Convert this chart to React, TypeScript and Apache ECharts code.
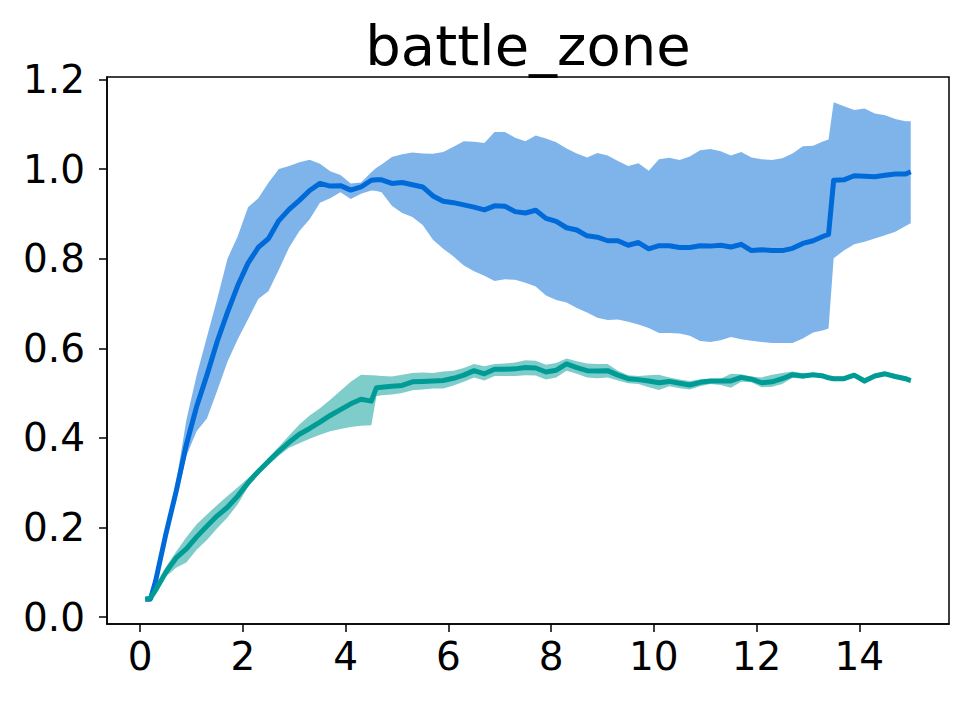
import React, { useEffect, useRef } from "react";
import * as echarts from "echarts";

const xs = [0.1,0.2,0.3,0.5,0.7,0.9,1.1,1.3,1.5,1.7,1.9,2.1,2.3,2.5,2.7,2.9,3.1,3.3,3.5,3.7,3.9,4.1,4.3,4.5,4.6,4.7,4.9,5.1,5.3,5.5,5.7,5.9,6.1,6.3,6.5,6.7,6.9,7.1,7.3,7.5,7.7,7.9,8.1,8.3,8.5,8.7,8.9,9.1,9.3,9.5,9.7,9.9,10.1,10.3,10.5,10.7,10.9,11.1,11.3,11.5,11.7,11.9,12.1,12.3,12.5,12.7,12.9,13.1,13.3,13.4,13.5,13.7,13.9,14.1,14.3,14.5,14.7,14.9,15.0];

const blueMean = [0.04,0.04,0.08,0.185,0.28,0.385,0.47,0.54,0.615,0.68,0.74,0.79,0.825,0.845,0.885,0.91,0.93,0.952,0.968,0.962,0.963,0.953,0.96,0.975,0.976,0.976,0.968,0.97,0.965,0.96,0.94,0.928,0.925,0.92,0.915,0.909,0.918,0.917,0.905,0.902,0.908,0.89,0.883,0.869,0.864,0.851,0.848,0.84,0.84,0.83,0.836,0.822,0.829,0.829,0.825,0.825,0.829,0.828,0.83,0.826,0.832,0.818,0.82,0.818,0.818,0.823,0.834,0.84,0.85,0.854,0.975,0.976,0.985,0.984,0.983,0.986,0.989,0.989,0.994];
const blueUpper = [0.04,0.04,0.085,0.195,0.30,0.44,0.54,0.625,0.71,0.80,0.85,0.915,0.935,0.97,1.0,1.007,1.015,1.021,1.012,0.995,0.987,0.968,0.97,0.993,1.003,1.01,1.027,1.033,1.037,1.035,1.034,1.038,1.05,1.062,1.061,1.058,1.083,1.083,1.07,1.062,1.075,1.068,1.06,1.046,1.035,1.026,1.036,1.03,1.018,1.007,1.013,0.996,1.022,1.025,1.02,1.028,1.042,1.045,1.04,1.03,1.038,1.026,1.022,1.02,1.024,1.035,1.051,1.052,1.062,1.066,1.149,1.14,1.132,1.135,1.124,1.12,1.112,1.107,1.107];
const blueLower = [0.04,0.04,0.075,0.175,0.26,0.36,0.415,0.443,0.505,0.57,0.62,0.665,0.71,0.728,0.775,0.825,0.862,0.888,0.925,0.935,0.948,0.933,0.945,0.952,0.951,0.948,0.918,0.902,0.893,0.875,0.842,0.822,0.805,0.785,0.772,0.762,0.75,0.754,0.753,0.746,0.738,0.718,0.708,0.702,0.69,0.68,0.668,0.663,0.664,0.659,0.653,0.645,0.634,0.634,0.633,0.628,0.616,0.614,0.618,0.625,0.62,0.617,0.614,0.612,0.612,0.612,0.622,0.635,0.64,0.644,0.801,0.818,0.832,0.838,0.845,0.852,0.86,0.873,0.879];

const tealMean = [0.04,0.042,0.06,0.1,0.132,0.152,0.179,0.203,0.226,0.245,0.27,0.3,0.325,0.348,0.37,0.39,0.408,0.421,0.435,0.45,0.463,0.476,0.486,0.482,0.512,0.513,0.515,0.517,0.525,0.526,0.527,0.528,0.533,0.54,0.55,0.543,0.553,0.553,0.554,0.557,0.556,0.547,0.551,0.565,0.557,0.55,0.549,0.55,0.54,0.532,0.53,0.527,0.523,0.526,0.522,0.518,0.524,0.527,0.527,0.527,0.535,0.531,0.523,0.525,0.532,0.541,0.538,0.541,0.538,0.534,0.532,0.532,0.54,0.527,0.538,0.543,0.537,0.532,0.528];
const tealUpper = [0.04,0.043,0.065,0.112,0.146,0.178,0.207,0.229,0.25,0.27,0.29,0.31,0.332,0.355,0.38,0.405,0.43,0.45,0.466,0.485,0.505,0.525,0.541,0.54,0.539,0.538,0.537,0.541,0.545,0.546,0.545,0.548,0.55,0.556,0.565,0.56,0.565,0.566,0.568,0.573,0.572,0.563,0.567,0.577,0.571,0.566,0.565,0.565,0.55,0.54,0.538,0.54,0.541,0.535,0.53,0.527,0.53,0.532,0.532,0.543,0.542,0.537,0.535,0.541,0.545,0.548,0.544,0.545,0.543,0.539,0.537,0.537,0.545,0.533,0.543,0.548,0.542,0.537,0.533];
const tealLower = [0.04,0.041,0.055,0.09,0.11,0.122,0.15,0.172,0.198,0.222,0.252,0.29,0.318,0.34,0.36,0.378,0.388,0.398,0.407,0.415,0.42,0.424,0.427,0.428,0.493,0.495,0.497,0.5,0.506,0.508,0.51,0.51,0.517,0.525,0.535,0.528,0.538,0.538,0.538,0.54,0.539,0.53,0.535,0.55,0.543,0.535,0.533,0.535,0.528,0.522,0.52,0.513,0.507,0.515,0.511,0.508,0.515,0.52,0.518,0.512,0.525,0.524,0.513,0.514,0.52,0.534,0.532,0.537,0.533,0.529,0.527,0.527,0.535,0.521,0.533,0.538,0.532,0.527,0.523];

const xTicks = [0, 2, 4, 6, 8, 10, 12, 14];
const yTicks = [0, 0.2, 0.4, 0.6, 0.8, 1.0, 1.2];

const BLUE = "#006ad9";
const BLUE_BAND = "#7fb4eb";
const TEAL = "#009b95";
const TEAL_BAND = "#7fcdca";

function bandSeries(upper: number[], lower: number[], fill: string, z: number) {
  return {
    type: "custom",
    z,
    silent: true,
    clip: false,
    data: [[xs[0], lower[0]]],
    renderItem: (_params: any, api: any) => {
      const pts: number[][] = [];
      for (let i = 0; i < xs.length; i++) pts.push(api.coord([xs[i], upper[i]]));
      for (let i = xs.length - 1; i >= 0; i--) pts.push(api.coord([xs[i], lower[i]]));
      return { type: "polygon", shape: { points: pts }, style: { fill, stroke: "none" } };
    },
  };
}

function lineSeries(vals: number[], color: string, z: number) {
  return {
    type: "line",
    z,
    showSymbol: false,
    symbol: "none",
    data: xs.map((x, i) => [x, vals[i]]),
    lineStyle: { color, width: 5, join: "round", cap: "butt" },
    itemStyle: { color },
  };
}

export default function App() {
  const ref = useRef<HTMLDivElement>(null);
  useEffect(() => {
    if (!ref.current) return;
    const chart = echarts.init(ref.current, undefined, { renderer: "svg" });
    const font = "DejaVu Sans";
    chart.setOption({
      animation: false,
      backgroundColor: "#ffffff",
      grid: {
        left: 107, top: 77, right: 19, bottom: 80,
        show: true, borderColor: "#000", borderWidth: 1.5, backgroundColor: "transparent",
      },
      graphic: [
        {
          type: "text", x: 528, y: 45,
          style: {
            text: "battle_zone", fontSize: 56, fontFamily: font, fill: "#000",
            align: "center", verticalAlign: "middle",
          },
        },
      ],
      xAxis: {
        type: "value", min: -0.645, max: 15.745,
        splitLine: { show: false },
        axisLine: { show: true, onZero: false, lineStyle: { color: "#000", width: 1.5 } },
        axisTick: { show: true, customValues: xTicks, length: 8, lineStyle: { color: "#000", width: 1.5 } },
        axisLabel: { customValues: xTicks, fontSize: 39, fontFamily: font, color: "#000", margin: 13 },
      },
      yAxis: {
        type: "value", min: -0.0155, max: 1.2055,
        splitLine: { show: false },
        axisLine: { show: true, onZero: false, lineStyle: { color: "#000", width: 1.5 } },
        axisTick: { show: true, customValues: yTicks, length: 8, lineStyle: { color: "#000", width: 1.5 } },
        axisLabel: {
          customValues: yTicks, fontSize: 39, fontFamily: font, color: "#000", margin: 22,
          formatter: (v: number) => v.toFixed(1),
        },
      },
      series: [
        bandSeries(blueUpper, blueLower, BLUE_BAND, 1),
        lineSeries(blueMean, BLUE, 2),
        bandSeries(tealUpper, tealLower, TEAL_BAND, 3),
        lineSeries(tealMean, TEAL, 4),
      ],
    });
    return () => chart.dispose();
  }, []);
  return <div ref={ref} style={{ width: 968, height: 704, position: "absolute", left: 0, top: 0 }} />;
}
